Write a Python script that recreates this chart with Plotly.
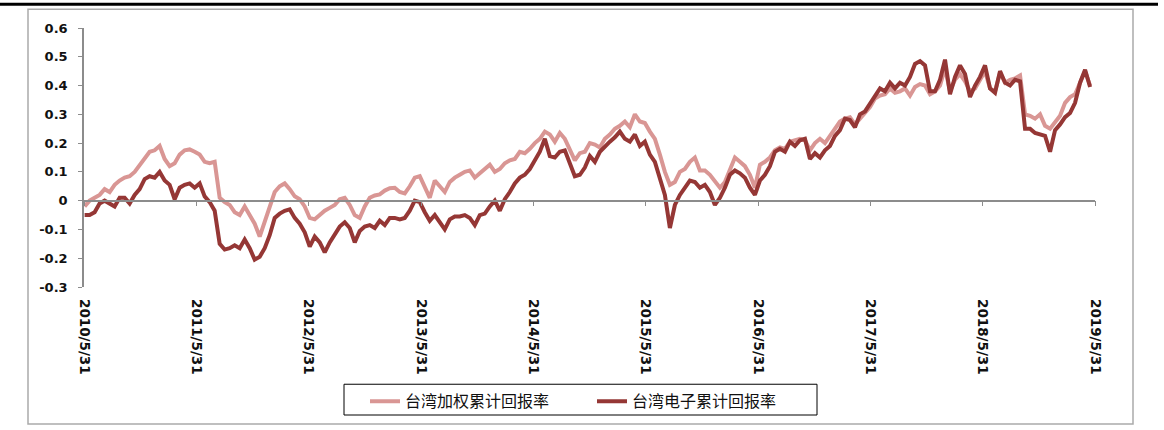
import pandas as pd
import plotly.graph_objects as go

start_date = "2010-06-02"
end_date = "2019-05-15"

taiex_cum = [
    -0.02, 0.0, 0.01, 0.02, 0.04, 0.03, 0.055, 0.07, 0.08, 0.085,
    0.10, 0.125, 0.15, 0.17, 0.175, 0.19, 0.145, 0.12, 0.13, 0.16,
    0.175, 0.178, 0.17, 0.16, 0.135, 0.13, 0.135, 0.01, -0.005, -0.015,
    -0.04, -0.05, -0.02, -0.05, -0.08, -0.125, -0.07, -0.02, 0.03, 0.05,
    0.06, 0.04, 0.015, 0.005, -0.02, -0.06, -0.065, -0.05, -0.035, -0.025,
    -0.015, 0.005, 0.01, -0.015, -0.05, -0.06, -0.02, 0.01, 0.018, 0.022,
    0.035, 0.043, 0.045, 0.03, 0.025, 0.05, 0.08, 0.085, 0.045, 0.01,
    0.07, 0.05, 0.03, 0.065, 0.08, 0.09, 0.10, 0.105, 0.08, 0.095,
    0.11, 0.125, 0.10, 0.11, 0.13, 0.14, 0.145, 0.17, 0.165, 0.18,
    0.20, 0.215, 0.24, 0.23, 0.205, 0.235, 0.215, 0.18, 0.14, 0.165,
    0.17, 0.20, 0.195, 0.185, 0.215, 0.23, 0.25, 0.26, 0.275, 0.255,
    0.30, 0.275, 0.27, 0.24, 0.215, 0.16, 0.10, 0.055, 0.065, 0.10,
    0.11, 0.135, 0.15, 0.105, 0.105, 0.09, 0.065, 0.045, 0.065, 0.11,
    0.15, 0.135, 0.12, 0.09, 0.045, 0.125, 0.135, 0.15, 0.175, 0.185,
    0.18, 0.205, 0.21, 0.215, 0.21, 0.175, 0.20, 0.215, 0.20, 0.225,
    0.255, 0.275, 0.285, 0.29, 0.265, 0.285, 0.305, 0.325, 0.355, 0.365,
    0.37, 0.39, 0.375, 0.38, 0.39, 0.365, 0.395, 0.405, 0.40, 0.37,
    0.38, 0.40, 0.46, 0.38, 0.42, 0.44, 0.415, 0.38, 0.39, 0.42,
    0.45, 0.39, 0.38, 0.445, 0.41, 0.42, 0.425, 0.435, 0.30, 0.295,
    0.285, 0.30, 0.26, 0.25, 0.275, 0.295, 0.34, 0.36, 0.37, 0.41,
    0.45, 0.40,
]

elec_cum = [
    -0.05, -0.05, -0.04, -0.01, 0.0, -0.01, -0.02, 0.01, 0.01, -0.01,
    0.02, 0.04, 0.075, 0.085, 0.08, 0.10, 0.07, 0.055, 0.005, 0.045,
    0.055, 0.06, 0.045, 0.06, 0.015, -0.005, -0.035, -0.15, -0.17, -0.165,
    -0.155, -0.165, -0.135, -0.165, -0.205, -0.195, -0.165, -0.12, -0.06, -0.045,
    -0.035, -0.03, -0.06, -0.08, -0.11, -0.16, -0.125, -0.145, -0.18, -0.145,
    -0.12, -0.09, -0.075, -0.095, -0.145, -0.105, -0.09, -0.085, -0.095, -0.07,
    -0.085, -0.06, -0.06, -0.065, -0.06, -0.035, 0.0, -0.005, -0.04, -0.07,
    -0.05, -0.075, -0.10, -0.065, -0.055, -0.055, -0.05, -0.06, -0.085, -0.05,
    -0.045, -0.02, 0.0, -0.035, 0.005, 0.03, 0.06, 0.08, 0.09, 0.11,
    0.14, 0.17, 0.215, 0.155, 0.15, 0.17, 0.175, 0.13, 0.085, 0.09,
    0.115, 0.155, 0.135, 0.17, 0.19, 0.205, 0.22, 0.24, 0.215, 0.205,
    0.23, 0.19, 0.205, 0.16, 0.135, 0.08, 0.02, -0.095, -0.015, 0.02,
    0.045, 0.07, 0.065, 0.045, 0.055, 0.03, -0.015, 0.01, 0.045, 0.09,
    0.105, 0.095, 0.08, 0.045, 0.02, 0.07, 0.09, 0.12, 0.17, 0.18,
    0.17, 0.205, 0.19, 0.21, 0.215, 0.145, 0.165, 0.15, 0.175, 0.19,
    0.225, 0.245, 0.285, 0.28, 0.255, 0.30, 0.31, 0.335, 0.36, 0.39,
    0.38, 0.41, 0.39, 0.41, 0.40, 0.43, 0.475, 0.485, 0.47, 0.38,
    0.38, 0.42, 0.49, 0.37, 0.43, 0.47, 0.44, 0.36, 0.40, 0.43,
    0.47, 0.39, 0.375, 0.45, 0.41, 0.40, 0.42, 0.415, 0.25, 0.25,
    0.235, 0.23, 0.225, 0.17, 0.245, 0.265, 0.29, 0.305, 0.34, 0.41,
    0.455, 0.395,
]

series_names = ["台湾加权累计回报率", "台湾电子累计回报率"]
x_tick_dates = ["2010-05-31", "2011-05-31", "2012-05-31", "2013-05-31", "2014-05-31",
                "2015-05-31", "2016-05-31", "2017-05-31", "2018-05-31", "2019-05-31"]
x_tick_text = ["2010/5/31", "2011/5/31", "2012/5/31", "2013/5/31", "2014/5/31",
               "2015/5/31", "2016/5/31", "2017/5/31", "2018/5/31", "2019/5/31"]
y_tick_vals = [-0.3, -0.2, -0.1, 0.0, 0.1, 0.2, 0.3, 0.4, 0.5, 0.6]
y_tick_text = ["-0.3", "-0.2", "-0.1", "0", "0.1", "0.2", "0.3", "0.4", "0.5", "0.6"]

dates = pd.date_range(start_date, end_date, periods=len(taiex_cum))

# ---- layout geometry (pixels) ----
W, H = 1164, 430
L, R, T, B = 84, 1095, 28, 289
PW, PH = R - L, B - T


def px(xp):
    return (xp - L) / PW


def py(yp):
    return (B - yp) / PH


LIGHT = "#D99694"
DARK = "#953735"
AXIS = "#8C8C8C"
YTICKFONT = dict(family="DejaVu Sans", size=13, color="#111111", weight="bold")
XTICKFONT = dict(family="DejaVu Sans", size=13.5, color="#111111", weight="bold")

fig = go.Figure()
fig.add_trace(go.Scatter(x=dates, y=taiex_cum, mode="lines", name=series_names[0],
                         line=dict(color=LIGHT, width=4)))
fig.add_trace(go.Scatter(x=dates, y=elec_cum, mode="lines", name=series_names[1],
                         line=dict(color=DARK, width=4)))
# carrier trace for the axis drawn along y = 0
fig.add_trace(go.Scatter(x=[dates[0]], y=[None], xaxis="x2", showlegend=False,
                         hoverinfo="skip", mode="lines"))

x_range = [x_tick_dates[0], x_tick_dates[-1]]
fig.update_layout(
    width=W, height=H,
    margin=dict(l=L, r=W - R, t=T, b=H - B, pad=0),
    paper_bgcolor="white", plot_bgcolor="white",
    showlegend=True,
    xaxis=dict(range=x_range, tickvals=x_tick_dates, ticktext=x_tick_text,
               tickangle=90, showline=False, showgrid=False, zeroline=False,
               ticks="", tickfont=XTICKFONT, ticklabelstandoff=11),
    xaxis2=dict(range=x_range, overlaying="x", anchor="free",
                position=(0 - y_tick_vals[0]) / (y_tick_vals[-1] - y_tick_vals[0]),
                tickvals=x_tick_dates, showticklabels=False, showgrid=False,
                zeroline=False, showline=True, linecolor=AXIS, linewidth=1.5,
                ticks="outside", ticklen=5, tickcolor=AXIS, tickwidth=1.2),
    yaxis=dict(range=[y_tick_vals[0], y_tick_vals[-1]], tickvals=y_tick_vals,
               ticktext=y_tick_text, showgrid=False, zeroline=False,
               showline=True, linecolor=AXIS, linewidth=1.5,
               ticks="outside", ticklen=4, tickcolor=AXIS, tickwidth=1.2,
               tickfont=YTICKFONT, ticklabelstandoff=8),
    legend=dict(orientation="h", x=px(365), y=py(387), xanchor="left", yanchor="top",
                bgcolor="rgba(0,0,0,0)", borderwidth=0,
                font=dict(family="Noto Sans CJK SC", size=16, color="#111111"),
                entrywidth=182, itemwidth=30, tracegroupgap=0),
    shapes=[
        dict(type="rect", xref="paper", yref="paper",
             x0=px(28), x1=px(1133), y0=py(427), y1=py(9),
             line=dict(color="#ABABAB", width=1.5), layer="below"),
        dict(type="line", xref="paper", yref="paper",
             x0=px(0), x1=px(1158), y0=py(4), y1=py(4),
             line=dict(color="#000000", width=3)),
        dict(type="rect", xref="paper", yref="paper",
             x0=px(344), x1=px(817), y0=py(418), y1=py(387),
             line=dict(color="#000000", width=1), fillcolor="white", layer="below"),
    ],
)

fig.write_html("out.html")
